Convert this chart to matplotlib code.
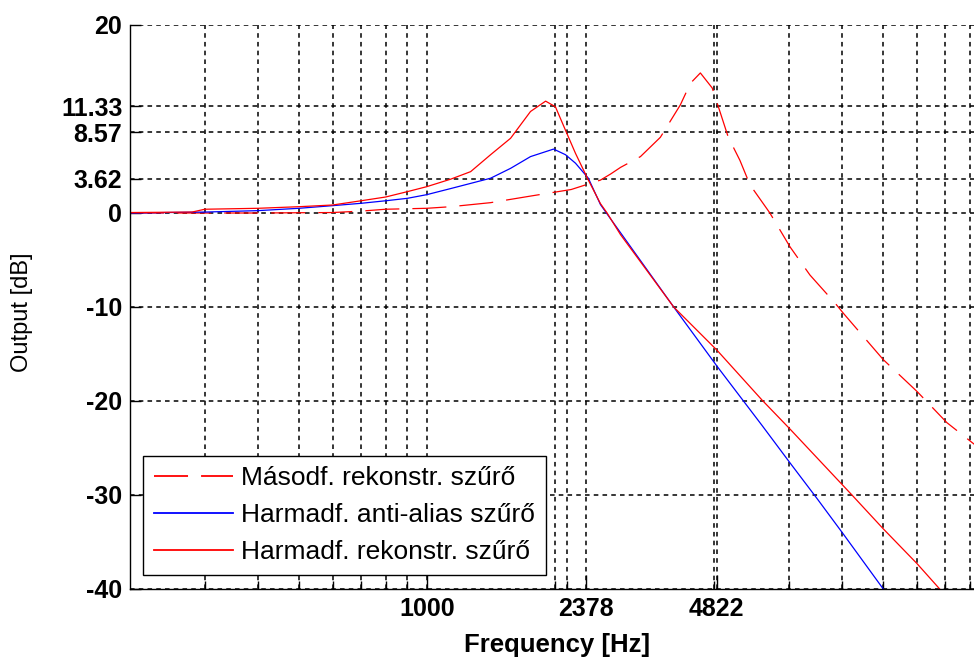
import matplotlib
matplotlib.use("Agg")
import matplotlib.pyplot as plt
from matplotlib.ticker import NullFormatter

plt.rcParams['font.family'] = ['Liberation Sans', 'DejaVu Sans']
plt.rcParams['lines.scale_dashes'] = False

# Másodf. rekonstr. szűrő (red dashed)
f_2nd = [200, 400, 600, 700, 800, 1000, 1139, 1414, 1756, 2190, 2566, 2712, 2861,
         3188, 3551, 3958, 4180, 4412, 4705, 4865, 5130, 5468, 5774, 6433, 7175,
         7995, 9167, 9597, 11900, 14300, 16800, 20000]
db_2nd = [0.0, 0.0, 0.05, 0.2, 0.4, 0.5, 0.67, 1.1, 1.8, 2.5, 3.5, 4.15, 4.85,
          6.0, 8.05, 11.5, 13.8, 14.9, 13.3, 11.3, 8.1, 5.6, 3.0, 0.0, -3.6,
          -6.6, -9.6, -10.7, -15.6, -19.0, -22.3, -25.0]

# Harmadf. anti-alias szűrő (blue)
f_aa = [200, 300, 400, 500, 600, 700, 800, 900, 1000, 1139, 1414, 1576, 1756,
        1990, 2123, 2241, 2403, 2566, 2660, 3818, 4829, 6165, 7180, 8315, 9597,
        11900, 12500]
db_aa = [0.0, 0.1, 0.25, 0.5, 0.78, 1.03, 1.3, 1.56, 1.95, 2.6, 3.7, 4.75, 6.0,
         6.8, 6.2, 5.3, 3.7, 0.9, -0.1, -10.0, -16.3, -22.6, -26.6, -30.4, -34.2,
         -40.0, -41.5]

# Harmadf. rekonstr. szűrő (red)
f_3rd = [200, 280, 300, 400, 500, 600, 700, 800, 900, 1000, 1139, 1269, 1414,
         1576, 1756, 1906, 2010, 2123, 2241, 2403, 2566, 2660, 2861, 3818, 4829,
         6165, 7180, 10040, 11900, 14290, 16160, 17500]
db_3rd = [0.05, 0.1, 0.4, 0.5, 0.67, 0.85, 1.3, 1.7, 2.27, 2.8, 3.6, 4.4, 6.2,
          7.95, 10.8, 11.9, 11.3, 8.8, 6.35, 3.5, 1.0, 0.0, -2.3, -10.0, -14.6,
          -19.9, -23.0, -30.0, -33.6, -37.3, -40.0, -41.7]

labels = ['Másodf. rekonstr. szűrő', 'Harmadf. anti-alias szűrő',
          'Harmadf. rekonstr. szűrő']

x_ticks = [1000, 2378, 4822]
x_ticklabels = ['1000', '2378', '4822']
x_minor = [300, 400, 500, 600, 700, 800, 900, 2000, 2140, 4756,
           7134, 9512, 11890, 14268, 16646, 19024]
y_ticks = [-40, -30, -20, -10, 0, 3.62, 8.57, 11.33, 20]
y_ticklabels = ['-40', '-30', '-20', '-10', '0', '3.62', '8.57', '11.33', '20']

fig = plt.figure(figsize=(9.74, 6.59), dpi=100)
ax = fig.add_axes([130 / 974, 70 / 659, 849 / 974, 564 / 659])

ax.plot(f_2nd, db_2nd, color='#ff0000', lw=0.9, linestyle=(0, (24.5, 9.4)), label=labels[0])
ax.plot(f_aa, db_aa, color='#0000ff', lw=0.9, label=labels[1])
ax.plot(f_3rd, db_3rd, color='#ff0000', lw=0.9, label=labels[2])

ax.set_xscale('log')
ax.set_xlim(200, 20000)
ax.set_ylim(-40, 20)

ax.set_xticks(x_ticks)
ax.set_xticklabels(x_ticklabels, fontsize=18, fontweight='bold')
ax.set_xticks(x_minor, minor=True)
ax.xaxis.set_minor_formatter(NullFormatter())
ax.set_yticks(y_ticks)
ax.set_yticklabels(y_ticklabels, fontsize=18, fontweight='bold')

grid_style = dict(color='k', linestyle=(0, (3.3, 3.0)), linewidth=1.1)
ax.grid(True, which='major', axis='both', **grid_style)
ax.grid(True, which='minor', axis='x', **grid_style)

ax.spines['top'].set_visible(False)
ax.spines['right'].set_visible(False)
ax.spines['left'].set_linewidth(1.0)
ax.spines['bottom'].set_linewidth(1.0)
ax.tick_params(axis='both', which='both', direction='in', top=False, right=False, width=1.0)
ax.tick_params(axis='x', which='major', length=10, pad=5.5)
ax.tick_params(axis='x', which='minor', length=6)
ax.tick_params(axis='y', which='major', length=8, pad=5.5)

leg = ax.legend(loc='lower left', bbox_to_anchor=(13 / 849, 14 / 564), borderaxespad=0,
                fontsize=19, handlelength=3.0, handletextpad=0.32, labelspacing=0.5,
                borderpad=0.4, fancybox=False, framealpha=1, edgecolor='k')
leg.get_frame().set_linewidth(1.0)
for line in leg.get_lines():
    line.set_linewidth(1.3)

fig.text(557 / 974, (659 - 652) / 659, 'Frequency [Hz]', fontsize=18.5, fontweight='bold',
         ha='center', va='baseline')
fig.text(22 / 974, 1 - 312 / 659, 'Output [dB]', fontsize=17, rotation=90,
         ha='center', va='center')

fig.savefig('out.png', dpi=100)
